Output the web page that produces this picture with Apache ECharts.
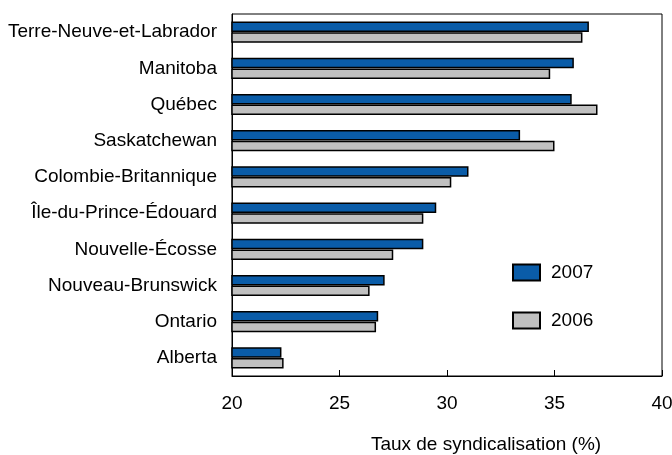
<!DOCTYPE html>
<html><head><meta charset="utf-8">
<script src="https://cdn.jsdelivr.net/npm/echarts@6/dist/echarts.min.js"></script>
<style>html,body{margin:0;padding:0;background:#fff}#c{width:672px;height:455px}</style>
</head><body><div id="c"></div>
<script>
const categories = ["Terre-Neuve-et-Labrador","Manitoba","Québec","Saskatchewan","Colombie-Britannique","Île-du-Prince-Édouard","Nouvelle-Écosse","Nouveau-Brunswick","Ontario","Alberta"];
const values2007 = [36.6, 35.9, 35.8, 33.4, 31.0, 29.5, 28.9, 27.1, 26.8, 22.3];
const values2006 = [36.3, 34.8, 37.0, 35.0, 30.2, 28.9, 27.5, 26.4, 26.7, 22.4];
const xTicks = [20, 25, 30, 35, 40];
const axisTitle = "Taux de syndicalisation (%)";

const font = "'Liberation Sans', Arial, sans-serif";
const fs = 19;
const chart = echarts.init(document.getElementById('c'), null, {renderer: 'canvas'});
chart.setOption({
  animation: false,
  backgroundColor: '#fff',
  grid: {left: 232, right: 10, top: 14, bottom: 79, show: true, borderColor: '#000', borderWidth: 1,
         containLabel: false, outerBoundsMode: 'none'},
  legend: {
    orient: 'vertical', left: 507, top: 258, itemWidth: 27, itemHeight: 16, itemGap: 29,
    icon: 'rect',
    textStyle: {fontFamily: font, fontSize: fs, color: '#000', padding: [0,0,0,6]},
    data: ['2007', '2006']
  },
  xAxis: {
    type: 'value', min: xTicks[0], max: xTicks[xTicks.length-1], interval: 5,
    axisLine: {show: true, lineStyle: {color: '#000', width: 1}},
    axisTick: {show: true, inside: true, length: 6, lineStyle: {color: '#000'}},
    splitLine: {show: false},
    axisLabel: {fontFamily: font, fontSize: fs, color: '#000', margin: 18},
    name: axisTitle, nameLocation: 'middle', nameGap: 59,
    nameTextStyle: {fontFamily: font, fontSize: fs, color: '#000', padding: [0,0,0,78]}
  },
  yAxis: {
    type: 'category', data: categories, inverse: true,
    axisLine: {show: true, lineStyle: {color: '#000', width: 1}},
    axisTick: {show: false},
    axisLabel: {fontFamily: font, fontSize: fs, color: '#000', margin: 15}
  },
  series: [
    {name: '2007', type: 'bar', data: values2007, barWidth: 10.5, barGap: '2%',
     itemStyle: {color: '#0a5ca8', borderColor: '#000', borderWidth: 1.5}},
    {name: '2006', type: 'bar', data: values2006, barWidth: 10.5,
     itemStyle: {color: '#c0c0c0', borderColor: '#000', borderWidth: 1.5}}
  ]
});
</script></body></html>
